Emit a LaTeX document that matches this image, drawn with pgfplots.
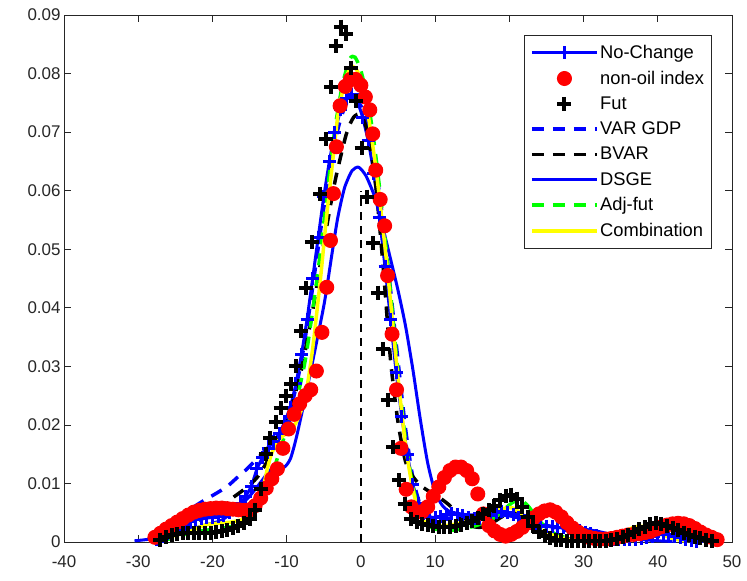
\documentclass[border=0pt]{standalone}
\usepackage{fontspec}
\setmainfont{Liberation Sans}
\usepackage{pgfplots}
\pgfplotsset{compat=1.18}
\definecolor{axgray}{RGB}{38,38,38}
\definecolor{mgreen}{RGB}{0,255,0}
\definecolor{myellow}{RGB}{255,255,0}
\pgfplotsset{
    marklegend/.style={legend image code/.code={
        \path[draw=none] (0bp,0bp) -- (55bp,0bp);
        \draw[##1] plot coordinates {(32.5bp,0bp)};}},
}

\begin{document}
\begin{tikzpicture}
\begin{axis}[
    scale only axis,
    width=668bp, height=527bp,
    xmin=-40, xmax=50, ymin=0, ymax=0.09,
    scaled x ticks=false, scaled y ticks=false,
    xtick={-40,-30,-20,-10,0,10,20,30,40,50},
    xticklabels={-40,-30,-20,-10,0,10,20,30,40,50},
    ytick={0,0.01,0.02,0.03,0.04,0.05,0.06,0.07,0.08,0.09},
    yticklabels={0,0.01,0.02,0.03,0.04,0.05,0.06,0.07,0.08,0.09},
    tick align=inside,
    major tick length=7bp,
    tick style={axgray, line width=0.7bp},
    axis line style={axgray, line width=0.8bp},
    ticklabel style={font=\fontsize{17}{19}\selectfont, text=axgray},
    xticklabel style={yshift=-10bp},
    legend style={at={(1,1)}, xshift=-20bp, yshift=-20bp, anchor=north east,
        draw=axgray, line width=0.7bp, fill=white,
        font=\fontsize{18.4}{20}\selectfont, row sep=7bp,
        inner xsep=6bp, inner ysep=8bp,
        nodes={inner xsep=1.5bp}},
    legend cell align=left,
    legend image code/.code={
        \path[draw=none] (0bp,0bp) -- (55bp,0bp);
        \draw[mark repeat=2,mark phase=2,#1] plot coordinates {(0bp,0bp) (32.5bp,0bp) (65bp,0bp)};
    },
]

% No-Change
\addplot[blue, line width=3bp, mark=+, mark size=6.5bp, mark options={solid, line width=3bp}] coordinates {
(-27.5,0.0005)(-26.75,0.001)(-26,0.0015)(-25.25,0.002)(-24.5,0.0025)(-23.75,0.003)(-23,0.0035)(-22.25,0.0038)
(-21.5,0.004)(-20.75,0.0041)(-20,0.0042)(-19.25,0.0043)(-18.5,0.0045)(-17.75,0.005)(-17,0.0057)(-16.25,0.0066)
(-15.5,0.0078)(-14.75,0.0095)(-14,0.0125)(-13.25,0.0145)(-12.5,0.016)(-11.75,0.0172)(-11,0.0185)(-10.25,0.0205)
(-9.5,0.023)(-8.75,0.027)(-8,0.032)(-7.25,0.038)(-6.5,0.045)(-5.75,0.052)(-5,0.059)(-4.25,0.065)(-3.5,0.07)
(-2.75,0.0738)(-2,0.0758)(-1.25,0.0765)(-0.5,0.0755)(0.25,0.0725)(1,0.0685)(1.75,0.063)(2.5,0.0555)(3.25,0.047)
(4,0.038)(4.75,0.029)(5.5,0.0215)(6.25,0.015)(7,0.0098)(7.75,0.0065)(8.5,0.0048)(9.25,0.0042)(10,0.0042)
(10.75,0.0044)(11.5,0.0047)(12.25,0.0048)(13,0.0047)(13.75,0.0045)(14.5,0.0042)(15.25,0.004)(16,0.004)
(16.75,0.0042)(17.5,0.0046)(18.25,0.005)(19,0.0052)(19.75,0.0051)(20.5,0.0047)(21.25,0.0042)(22,0.0036)
(22.75,0.0032)(23.5,0.003)(24.25,0.0028)(25,0.0027)(25.75,0.0026)(26.5,0.0025)(27.25,0.0024)(28,0.0023)
(28.75,0.0022)(29.5,0.002)(30.25,0.0017)(31,0.0014)(31.75,0.0011)(32.5,0.0008)(33.25,0.0006)(34,0.0005)
(34.75,0.0004)(35.5,0.0004)(36.25,0.0004)(37,0.0005)(37.75,0.0006)(38.5,0.0008)(39.25,0.001)(40,0.0012)
(40.75,0.0013)(41.5,0.0012)(42.25,0.001)(43,0.0008)(43.75,0.0005)(44.5,0.0003)(45.25,0.0001)
};
\addlegendentry{No-Change}

% non-oil index
\addplot[red, only marks, mark=*, mark size=7bp, mark options={draw=red, fill=red, line width=1bp}, marklegend] coordinates {
(-27.75,0.0008)(-27,0.0015)(-26.25,0.0022)(-25.5,0.0028)(-24.75,0.0034)(-24,0.0040)(-23.25,0.0046)(-22.5,0.0051)
(-21.75,0.0054)(-21,0.0056)(-20.25,0.0057)(-19.5,0.0058)(-18.75,0.0058)(-18,0.0057)(-17.25,0.0056)(-16.5,0.0055)
(-15.75,0.0054)(-15,0.0055)(-14.25,0.0062)(-13.5,0.0075)(-12.75,0.0092)(-12,0.0108)(-11.25,0.0125)(-10.5,0.016)
(-9.75,0.0193)(-9,0.0218)(-8.25,0.0236)(-7.5,0.0250)(-6.75,0.0260)(-6,0.0292)(-5.25,0.0358)(-4.6,0.0435)
(-4.1,0.0515)(-3.7,0.0595)(-3.3,0.0675)(-2.8,0.0745)(-2.1,0.0778)(-1.4,0.0790)(-0.7,0.0790)(0,0.0780)
(0.6,0.0760)(1.2,0.0738)(1.6,0.0697)(2.0,0.0635)(2.6,0.0585)(3.2,0.0540)(3.6,0.0455)(4.2,0.0355)
(4.8,0.0260)(5.4,0.0160)(6.1,0.0090)(6.8,0.0060)(7.5,0.0051)(8.25,0.0052)(9,0.006)(9.75,0.0078)
(10.5,0.0094)(11.25,0.011)(12,0.0122)(12.75,0.0128)(13.5,0.0128)(14.25,0.0122)(15,0.0108)(15.75,0.0082)
(16.5,0.0048)(17.25,0.0028)(18,0.0019)(18.75,0.0013)(19.5,0.001)(20.25,0.0013)(21,0.0018)(21.75,0.0025)
(22.5,0.0033)(23.25,0.0041)(24,0.0048)(24.75,0.0053)(25.5,0.0055)(26.25,0.0051)(27,0.0043)(27.75,0.0033)
(28.5,0.0024)(29.25,0.0017)(30,0.0011)(30.75,0.0008)(31.5,0.0006)(32.25,0.0005)(33,0.0005)(33.75,0.0006)
(34.5,0.0008)(35.25,0.001)(36,0.0012)(36.75,0.0013)(37.5,0.0014)(38.25,0.0016)(39,0.0018)(39.75,0.0022)
(40.5,0.0026)(41.25,0.0029)(42,0.0031)(42.75,0.0032)(43.5,0.0031)(44.25,0.0028)(45,0.0023)(45.75,0.0017)
(46.5,0.0012)(47.25,0.0008)(48,0.0004)
};
\addlegendentry{non-oil index}

% Fut
\addplot[black, only marks, mark=+, mark size=7bp, mark options={line width=4bp}, marklegend] coordinates {
(-27,0.0004)(-26.25,0.0008)(-25.5,0.0012)(-24.75,0.0014)(-24,0.0015)(-23.25,0.0015)(-22.5,0.0015)(-21.75,0.0015)
(-21,0.0015)(-20.25,0.0016)(-19.5,0.0017)(-18.75,0.0019)(-18,0.0021)(-17.25,0.0024)(-16.5,0.0028)(-15.75,0.0033)
(-15,0.0040)(-14.25,0.0055)(-13.5,0.0090)(-12.8,0.0150)(-12.2,0.0178)(-11.5,0.0205)(-10.8,0.0228)(-10.1,0.0250)
(-9.4,0.0270)(-8.7,0.0300)(-8.1,0.0360)(-7.4,0.0434)(-6.6,0.0512)(-5.5,0.0595)(-4.7,0.0688)(-4.0,0.0777)
(-3.4,0.0847)(-2.7,0.0880)(-2.0,0.0867)(-1.35,0.0810)(-0.7,0.0753)(0.1,0.0673)(0.8,0.0590)(1.6,0.0510)
(2.3,0.0426)(3.0,0.0330)(3.6,0.0242)(4.3,0.0162)(5.2,0.0106)(5.9,0.0065)(6.7,0.0040)(7.5,0.0034)
(8.25,0.0031)(9,0.0029)(9.75,0.0027)(10.5,0.0026)(11.25,0.0026)(12,0.0026)(12.75,0.0027)(13.5,0.0029)
(14.25,0.0032)(15,0.0036)(15.75,0.0041)(16.5,0.0047)(17.25,0.0054)(18,0.0062)(18.75,0.0071)(19.5,0.0079)
(20.25,0.0081)(21,0.0074)(21.75,0.0060)(22.5,0.0043)(23.25,0.0028)(24,0.0017)(24.75,0.0010)(25.5,0.0006)
(26.25,0.0004)(27,0.0003)(27.75,0.0002)(28.5,0.0002)(29.25,0.0002)(30,0.0002)(30.75,0.0002)(31.5,0.0002)
(32.25,0.0002)(33,0.0002)(33.75,0.0003)(34.5,0.0005)(35.25,0.0008)(36,0.0012)(36.75,0.0017)(37.5,0.0022)
(38.25,0.0026)(39,0.0030)(39.75,0.0032)(40.5,0.0031)(41.25,0.0028)(42,0.0024)(42.75,0.0020)(43.5,0.0016)
(44.25,0.0012)(45,0.0009)(45.75,0.0006)(46.5,0.0003)(47.25,0.0001)
};
\addlegendentry{Fut}

% VAR GDP
\addplot[blue, line width=3.5bp, dash pattern=on 12bp off 9bp, smooth, tension=0.4] coordinates {
(-27,0.0015)(-26,0.0025)(-25,0.0035)(-24,0.0045)(-22.5,0.006)(-21,0.0072)(-19.5,0.0083)(-18,0.0095)
(-16.5,0.0112)(-15.5,0.0123)(-14,0.0142)(-13,0.0155)(-12,0.0168)(-11,0.0185)(-10,0.021)(-9,0.025)
(-8,0.031)(-7,0.039)(-6,0.048)(-5,0.057)(-4,0.065)(-3,0.071)(-2,0.0748)(-1,0.0758)(0,0.0745)(1,0.0705)
(2,0.064)(3,0.0545)(4,0.043)(5,0.031)(6,0.0195)(7,0.011)(8,0.0063)(9,0.0045)(10,0.004)(11,0.004)
(12,0.0041)(14,0.0042)(16,0.0043)(18,0.0045)(20,0.0045)(22,0.004)(24,0.0032)(26,0.0025)(28,0.0019)
(30,0.0014)(32,0.001)(34,0.0008)(36,0.0008)(38,0.0009)(40,0.001)(42,0.0009)(44,0.0006)(46,0.0003)(47.5,0.0001)
};
\addlegendentry{VAR GDP}

% BVAR
\addplot[black, line width=3.5bp, dash pattern=on 12bp off 9bp, smooth, tension=0.4] coordinates {
(-27,0.0008)(-25,0.0018)(-23,0.003)(-21,0.0042)(-19,0.0058)(-17,0.0078)(-15.5,0.0092)(-14,0.011)
(-12.5,0.014)(-11,0.0178)(-9.5,0.0225)(-8,0.0295)(-6.5,0.0395)(-5,0.051)(-3.5,0.0615)(-2,0.0695)
(-1,0.0725)(0,0.073)(1,0.0695)(2,0.061)(3,0.047)(4,0.031)(5,0.0205)(6,0.0138)(7,0.0112)(8,0.0097)
(9,0.0088)(10,0.008)(11,0.0072)(12,0.0062)(13,0.0048)(14,0.0035)(15,0.0027)(16,0.0025)(17,0.0028)
(18,0.0035)(19,0.0043)(20,0.0049)(21,0.0049)(22,0.0043)(23,0.0033)(24,0.0022)(25,0.0013)(27,0.0006)
(30,0.0004)(33,0.0005)(35,0.0009)(37,0.0017)(38.5,0.0024)(40,0.0028)(41.5,0.0027)(43,0.002)
(44.5,0.0012)(46,0.0005)(47,0.0002)
};
\addlegendentry{BVAR}

% DSGE
\addplot[blue, line width=3bp, smooth, tension=0.4] coordinates {
(-30.5,0.0002)(-29,0.0004)(-27.3,0.0007)(-25.6,0.0012)(-23.3,0.002)(-21,0.0029)(-18.8,0.0037)(-16.6,0.0058)
(-15,0.0078)(-13.5,0.0102)(-12.3,0.0122)(-11.3,0.0129)(-10.3,0.0128)(-9.5,0.0142)(-8.7,0.0178)(-7.5,0.0247)
(-6.2,0.0327)(-4.9,0.041)(-3.8,0.05)(-3.1,0.0555)(-2.2,0.0605)(-1.2,0.0634)(-0.3,0.064)(0.7,0.0625)
(1.9,0.0588)(3,0.0535)(4,0.0483)(5,0.043)(6,0.037)(7,0.0295)(8,0.021)(9,0.0135)(10,0.0085)(11,0.0062)
(12,0.0052)(14,0.0047)(16,0.0046)(18,0.0047)(20,0.0045)(22,0.0038)(24,0.0031)(26,0.0026)(28,0.0023)
(30,0.0022)(32,0.0018)(34,0.0012)(36,0.0007)(38,0.0004)(40,0.0002)(42,0.0001)
};
\addlegendentry{DSGE}

% Adj-fut
\addplot[mgreen, line width=3.5bp, dash pattern=on 12bp off 9bp, smooth, tension=0.4] coordinates {
(-27,0.0002)(-25.5,0.0006)(-24,0.0012)(-22.5,0.0017)(-21,0.002)(-19.5,0.0022)(-18,0.0025)(-16.5,0.003)
(-15,0.0042)(-14,0.0058)(-13,0.0085)(-12.5,0.0095)(-11.2,0.0145)(-9.8,0.02)(-8.7,0.024)(-7.5,0.031)
(-6.5,0.0395)(-5.5,0.049)(-4.5,0.06)(-3.5,0.0705)(-2.5,0.078)(-1.5,0.0825)(-0.8,0.0828)(0,0.0805)
(1,0.075)(2,0.066)(3,0.055)(4,0.0425)(5,0.029)(6,0.0175)(7,0.0095)(8,0.0048)(9,0.003)(10,0.0022)
(12,0.002)(14,0.0023)(16,0.003)(18,0.0042)(19.5,0.0058)(20.5,0.0068)(21.5,0.0072)(22.5,0.0062)
(23.5,0.0045)(24.5,0.003)(26,0.0015)(28,0.0006)(30,0.0003)(32,0.0003)(34,0.0005)(36,0.0011)
(37.5,0.0018)(39,0.0025)(40.5,0.0028)(42,0.0027)(43.5,0.0022)(45,0.0016)(46.5,0.001)(47.5,0.0005)
};
\addlegendentry{Adj-fut}

% Combination
\addplot[myellow, line width=3.5bp, smooth, tension=0.4] coordinates {
(-27,0.0003)(-25.6,0.0009)(-23.3,0.0017)(-21,0.0029)(-19.2,0.0032)(-17.5,0.0034)(-16.1,0.0038)(-15,0.0045)
(-14,0.006)(-13.3,0.0085)(-12.6,0.0125)(-12,0.0152)(-11,0.0175)(-10,0.0186)(-9.2,0.0195)(-8.5,0.021)
(-7.5,0.0247)(-6.5,0.033)(-5.4,0.0455)(-4.7,0.0546)(-3.8,0.065)(-3.1,0.0728)(-2.2,0.0785)(-1.3,0.0812)
(-0.5,0.0805)(0.2,0.078)(0.9,0.0736)(1.9,0.065)(2.7,0.0566)(3.4,0.0486)(4,0.041)(4.8,0.0305)(5.5,0.0222)
(6.1,0.0157)(7,0.009)(8,0.0045)(9,0.003)(10,0.0026)(12,0.0029)(14,0.0034)(16,0.0042)(18,0.0052)
(19.5,0.0058)(20.5,0.0058)(22,0.0045)(23.5,0.0028)(25,0.0016)(27,0.0007)(29,0.0003)(31,0.0003)
(33,0.0006)(35,0.0014)(36.5,0.0024)(37.5,0.0027)(38.5,0.0025)(40,0.0016)(42,0.0006)(44,0.0001)
};
\addlegendentry{Combination}

% vertical reference line at zero
\addplot[black, line width=1.6bp, dash pattern=on 8bp off 6bp, forget plot] coordinates {(0,0) (0,0.06)};

\end{axis}
\pgfresetboundingbox
\path[use as bounding box] (-64bp,-39bp) rectangle (683bp,542bp);
\end{tikzpicture}
\end{document}
